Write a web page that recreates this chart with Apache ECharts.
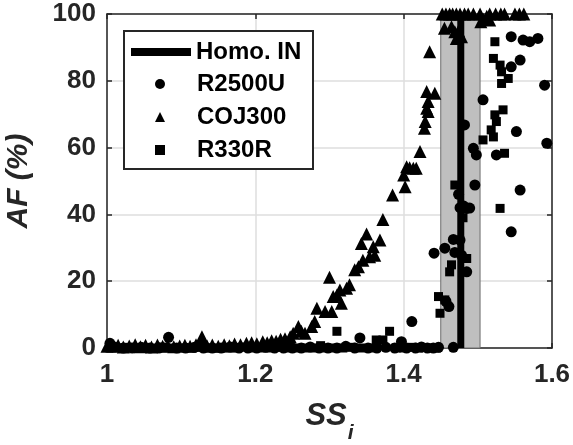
<!DOCTYPE html>
<html><head><meta charset="utf-8">
<script src="https://cdn.jsdelivr.net/npm/echarts@6/dist/echarts.min.js"></script>
<style>html,body{margin:0;padding:0;background:#fff}#c{width:573px;height:445px}</style>
</head><body><div id="c"></div>
<script>
// ---- data ----
const xTickRange = [1, 1.6, 0.2];
const yTickRange = [0, 100, 20];
const homoIN = 1.477;
const homoBand = [1.45, 1.503];
const seriesNames = ['Homo. IN', 'R2500U', 'COJ300', 'R330R'];

const r2500uX = [1.004,1.010,1.022,1.034,1.046,1.058,1.070,1.083,1.094,1.106,1.118,1.130,1.142,1.154,1.166,1.178,1.190,1.202,1.214,1.226,1.238,1.250,1.262,1.274,1.286,1.298,1.310,1.322,1.334,1.341,1.352,1.364,1.376,1.388,1.397,1.404,1.411,1.416,1.424,1.432,1.440,1.447,
  1.441,1.4555,1.457,1.461,1.467,1.469,1.467,1.476,1.478,1.474,1.476,1.481,1.485,1.485,1.482,1.494,1.498,1.496,1.507,1.525,1.489,
  1.545,1.561,1.570,1.581,1.557,1.545,1.590,1.552,1.557,1.545,1.593];
const r2500uY = [1.4,0.3,0,0,0.2,0,0,3.2,0,0,0.2,0,0,0,0.3,0,0,0,0.2,0,0,0,0,0.3,0,0,0,0.5,0,3.0,0,0,0.2,0,1.9,0,7.9,0,0.3,0,0,0.2,
  28.4,29.9,14.0,12.4,0.2,28.6,32.5,32.3,27.8,46.0,42.0,42.5,41.8,22.8,66.8,59.8,57.8,48.8,74.3,57.8,41.9,
  93.2,92.2,91.7,92.7,86.2,84.2,78.7,64.8,47.3,34.8,61.3];

const coj300X = [1.000,1.008,1.015,1.022,1.030,1.038,1.045,1.052,1.060,1.068,1.075,1.082,1.090,1.098,1.105,1.112,1.120,1.128,1.135,1.142,1.150,1.158,1.165,1.172,1.180,1.188,1.195,1.202,1.210,1.216,1.222,1.228,1.234,1.240,
  1.247,1.251,1.258,1.262,1.267,1.276,1.280,1.283,1.294,1.303,1.300,1.305,1.310,1.314,1.316,1.323,1.327,1.334,1.339,1.345,1.350,1.343,1.354,1.359,1.361,1.368,1.372,1.385,
  1.400,1.402,1.404,1.408,1.413,1.417,1.422,1.428,1.429,1.431,1.433,1.433,1.431,1.442,1.435,
  1.455,1.4645,1.469,1.471,1.474,1.478,1.452,1.457,1.462,1.466,1.471,1.476,1.482,1.487,1.494,1.503,1.504,1.507,1.512,1.516,1.516,1.524,1.531,1.536,1.550,1.556,1.562];
const coj300Y = [0.5,0.6,0.8,0.3,0.6,1.0,0.4,0.8,0.3,0.9,0.5,0.7,0.4,0.6,0.8,0.5,1.0,3.4,0.6,0.9,0.5,1.0,0.7,1.2,1.0,1.4,1.6,1.3,1.9,1.6,2.2,2.0,2.6,2.8,
  3.4,4.4,6.4,5.0,4.4,6.4,7.9,11.9,10.9,10.9,21.2,15.4,15.9,17.4,13.4,17.9,18.9,23.4,24.3,26.3,34.1,31.3,27.3,30.3,27.8,32.3,38.5,45.8,
  51.8,48.3,54.3,54.0,53.8,53.8,58.8,65.8,67.8,71.8,70.8,73.8,76.8,76.3,88.7,
  95.7,96.2,94.7,92.7,95.0,93.2,100,100,100,100,100,100,100,100,100,100,97.7,98.5,99.3,100,98.2,100,100,100,100,100,100];

const r330rX = [1.004,1.016,1.028,1.040,1.052,1.064,1.076,1.088,1.100,1.112,1.124,1.136,1.148,1.160,1.172,1.184,1.196,1.208,1.220,1.232,1.244,1.256,1.268,1.280,1.288,1.296,1.306,1.310,1.318,1.330,1.342,1.356,1.363,1.372,1.381,1.390,1.400,1.412,1.420,1.436,1.444,
  1.447,1.4555,1.449,1.4645,1.462,1.469,1.485,1.480,
  1.523,1.521,1.530,1.532,1.532,1.541,1.523,1.534,1.525,1.518,1.507,1.521,1.536,1.530];
const r330rY = [0,0,0.2,0,0,0,0.3,0,0,0,0.2,0,0,0,0,0.3,0,0,0,0.2,0,0,0,0,0.7,0,0,5.0,0,0.2,0,0,2.4,2.4,5.0,0,0,0.2,0,0,0,
  15.4,14.4,10.4,24.9,22.8,48.8,26.8,39.0,
  91.7,86.7,84.7,82.7,79.2,80.7,69.8,71.3,67.8,65.3,62.3,63.2,58.3,41.8];

function pairs(xs, ys) { return xs.map((x, i) => [x, ys[i]]); }

// ---- chart ----
const ink = '#262626';
const chart = echarts.init(document.getElementById('c'), null, { renderer: 'canvas' });
const tickFont = { fontFamily: 'Liberation Sans', fontWeight: 'bold', fontSize: 26, color: ink };
chart.setOption({
  animation: false,
  backgroundColor: '#fff',
  grid: { left: 107, right: 21, top: 14, bottom: 97, containLabel: false, outerBoundsMode: 'none' },
  xAxis: [{
    type: 'value', min: xTickRange[0], max: xTickRange[1], interval: xTickRange[2],
    axisLine: { show: true, onZero: false, lineStyle: { color: ink, width: 1.5 } },
    axisTick: { show: true, inside: true, length: 5, lineStyle: { color: ink, width: 1.5 } },
    axisLabel: Object.assign({ margin: 14 }, tickFont),
    splitLine: { show: true, lineStyle: { color: '#dedede', width: 1.5 } },
    name: '{a|SS}{b|i}', nameLocation: 'middle', nameGap: 40,
    nameTextStyle: { rich: {
      a: { fontFamily: 'Liberation Sans', fontWeight: 'bold', fontStyle: 'italic', fontSize: 31, color: ink, lineHeight: 56 },
      b: { fontFamily: 'Liberation Sans', fontWeight: 'bold', fontStyle: 'italic', fontSize: 21, color: ink, verticalAlign: 'bottom', lineHeight: 21, padding: [0,0,0,1] }
    } }
  }, {
    type: 'value', position: 'top', min: xTickRange[0], max: xTickRange[1], interval: xTickRange[2],
    axisLine: { show: true, onZero: false, lineStyle: { color: ink, width: 1.5 } },
    axisTick: { show: true, inside: true, length: 5, lineStyle: { color: ink, width: 1.5 } },
    axisLabel: { show: false }, splitLine: { show: false }
  }],
  yAxis: [{
    type: 'value', min: yTickRange[0], max: yTickRange[1], interval: yTickRange[2],
    axisLine: { show: true, onZero: false, lineStyle: { color: ink, width: 1.5 } },
    axisTick: { show: true, inside: true, length: 5, lineStyle: { color: ink, width: 1.5 } },
    axisLabel: Object.assign({ margin: 11 }, tickFont),
    splitLine: { show: true, lineStyle: { color: '#dedede', width: 1.5 } },
    name: 'AF (%)', nameLocation: 'middle', nameGap: 73,
    nameTextStyle: { fontFamily: 'Liberation Sans', fontWeight: 'bold', fontStyle: 'italic', fontSize: 30, color: ink }
  }, {
    type: 'value', position: 'right', min: yTickRange[0], max: yTickRange[1], interval: yTickRange[2],
    axisLine: { show: true, onZero: false, lineStyle: { color: ink, width: 1.5 } },
    axisTick: { show: true, inside: true, length: 5, lineStyle: { color: ink, width: 1.5 } },
    axisLabel: { show: false }, splitLine: { show: false }
  }],
  graphic: [{
    type: 'rect', left: 123, top: 30, z: 10,
    shape: { width: 189, height: 138 },
    style: { fill: '#fff', stroke: ink, lineWidth: 2 }
  }],
  legend: [{
    data: [{ name: seriesNames[0], icon: 'rect' }],
    left: 131, top: 40, padding: 0, z: 20,
    itemWidth: 60, itemHeight: 8,
    textStyle: { fontFamily: 'Liberation Sans', fontWeight: 'bold', fontSize: 24, color: '#000' }
  }, {
    data: [{ name: seriesNames[1], icon: 'circle' }, { name: seriesNames[2], icon: 'triangle' }, { name: seriesNames[3], icon: 'rect' }],
    orient: 'vertical', left: 155, top: 72, padding: 0, z: 20,
    itemWidth: 10, itemHeight: 10, itemGap: 9,
    textStyle: { fontFamily: 'Liberation Sans', fontWeight: 'bold', fontSize: 24, color: '#000', padding: [0, 0, 0, 27] }
  }],
  series: [{
    name: seriesNames[0], type: 'line', z: 1,
    data: [[homoIN, yTickRange[0]], [homoIN, yTickRange[1]]],
    symbol: 'none', itemStyle: { color: '#000' },
    lineStyle: { color: '#000', width: 7 },
    markArea: {
      silent: true,
      itemStyle: { color: '#bfbfbf', borderColor: '#6e6e6e', borderWidth: 1 },
      data: [[{ xAxis: homoBand[0], yAxis: yTickRange[0] }, { xAxis: homoBand[1], yAxis: yTickRange[1] }]]
    }
  }, {
    name: seriesNames[1], type: 'scatter', z: 3, symbol: 'circle', symbolSize: 11,
    itemStyle: { color: '#000', opacity: 1 }, data: pairs(r2500uX, r2500uY)
  }, {
    name: seriesNames[2], type: 'scatter', z: 3, symbol: 'triangle', symbolSize: 13,
    itemStyle: { color: '#000', opacity: 1 }, data: pairs(coj300X, coj300Y)
  }, {
    name: seriesNames[3], type: 'scatter', z: 3, symbol: 'rect', symbolSize: 9,
    itemStyle: { color: '#000', opacity: 1 }, data: pairs(r330rX, r330rY)
  }]
});
</script>
</body></html>
